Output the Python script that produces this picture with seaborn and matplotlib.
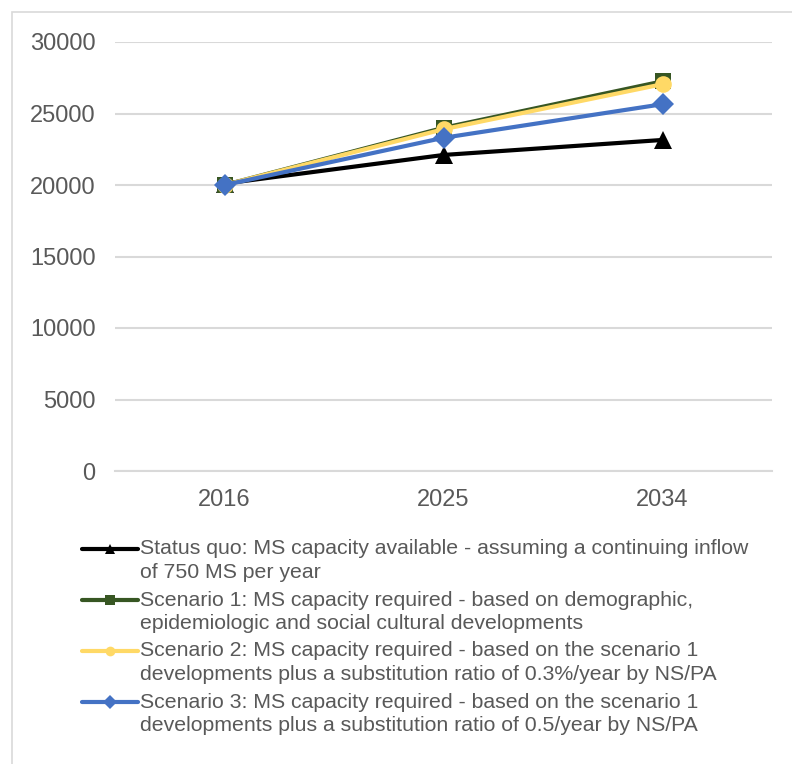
import matplotlib
matplotlib.use("Agg")
import matplotlib.pyplot as plt
import seaborn as sns
import pandas as pd
from matplotlib.lines import Line2D
from matplotlib.patches import Rectangle

# Data
years = ["2016", "2025", "2034"]
status_quo = [20100, 22100, 23150]
scenario_1 = [20000, 24000, 27250]
scenario_2 = [20000, 23900, 27050]
scenario_3 = [20000, 23300, 25650]

series_names = ["Status quo", "Scenario 1", "Scenario 2", "Scenario 3"]
legend_lines = [
    ["Status quo: MS capacity available - assuming a continuing inflow",
     "of 750 MS per year"],
    ["Scenario 1: MS capacity required - based on demographic,",
     "epidemiologic and social cultural developments"],
    ["Scenario 2: MS capacity required - based on the scenario 1",
     "developments plus a substitution ratio of 0.3%/year by NS/PA"],
    ["Scenario 3: MS capacity required - based on the scenario 1",
     "developments plus a substitution ratio of 0.5/year by NS/PA"],
]
colors = ["#000000", "#375623", "#FFD966", "#4472C4"]
markers = ["^", "s", "o", "D"]
marker_sizes = [13, 12, 12, 11]

df = pd.DataFrame({
    "year": years * 4,
    "value": status_quo + scenario_1 + scenario_2 + scenario_3,
    "series": [s for s in series_names for _ in years],
})

sns.set_style("white")
plt.rcParams["font.family"] = ["Liberation Sans", "DejaVu Sans"]

W, H = 792, 764
fig = plt.figure(figsize=(W / 100, H / 100), dpi=100)
ax = fig.add_axes([115 / W, 1 - 471 / H, (772 - 115) / W, (471 - 42) / H])

# outer chart border (only top and left visible)
fig.patches.append(Rectangle((12 / W, -0.2), 1.2, 1.2 - 12 / H,
                             transform=fig.transFigure, fill=False,
                             edgecolor="#D9D9D9", linewidth=1.2, zorder=1))

for name, c, m, ms in zip(series_names, colors, markers, marker_sizes):
    sub = df[df["series"] == name]
    sns.lineplot(data=sub, x="year", y="value", ax=ax, color=c, linewidth=3,
                 marker=m, markersize=ms, markeredgewidth=0, legend=False)

ax.set_xlim(-0.5, 2.5)
ax.set_ylim(0, 30000)
ax.set_yticks(range(0, 30001, 5000))
ax.set_xlabel("")
ax.set_ylabel("")
ax.patch.set_alpha(0)
ax.grid(axis="y", color="#D9D9D9", linewidth=1.5)
ax.set_axisbelow(True)
for s in ["top", "right", "left"]:
    ax.spines[s].set_visible(False)
ax.spines["bottom"].set_color("#D9D9D9")
ax.spines["bottom"].set_linewidth(1.5)
ax.tick_params(axis="y", length=0, pad=14, labelsize=17, labelcolor="#595959")
ax.tick_params(axis="x", length=0, pad=13, labelsize=17, labelcolor="#595959")

# legend drawn below the plot
first_rows = [549, 600, 651, 702]
for lines, c, m, y in zip(legend_lines, colors, markers, first_rows):
    yf = 1 - y / H
    fig.add_artist(Line2D([82 / W, 138 / W], [yf, yf], transform=fig.transFigure,
                          color=c, linewidth=3, solid_capstyle="round"))
    fig.add_artist(Line2D([110 / W], [yf], transform=fig.transFigure, color=c,
                          marker=m, markersize=7, markeredgewidth=0))
    for i, txt in enumerate(lines):
        fig.text(140 / W, 1 - (y + 23.5 * i) / H, txt, ha="left", va="center",
                 fontsize=15.3, color="#595959")

fig.savefig("out.png", dpi=100)
